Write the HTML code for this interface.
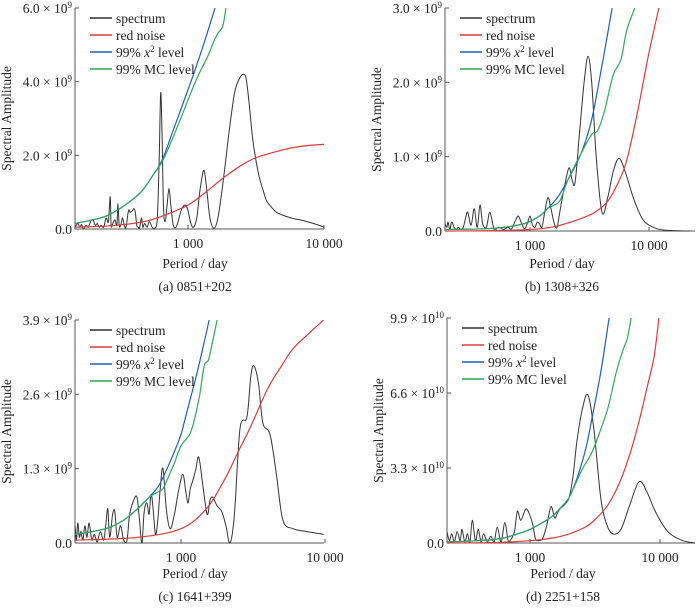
<!DOCTYPE html>
<html><head><meta charset="utf-8"><style>
body{margin:0;background:#fff;}
svg{display:block;font-family:"Liberation Serif",serif;}
</style></head><body>
<svg id="c" width="700" height="612" viewBox="0 0 700 612"></svg>
<script>
// Panel (a) data: period (day), amplitude (1e9)
const aSpecP=[148,155,160,165,170,178,185,192,200,208,215,222,230,240,250,260,268,272,280,290,300,305,312,320,330,340,350,365,375,390,400,410,420,430,440,455,465,480,500,520,545,570,595,615,630,645,660,680,700,725,750,780,815,845,900,960,1000,1050,1100,1160,1220,1290,1330,1380,1450,1550,1660,1800,2000,2200,2400,2550,2670,2800,3000,3300,3600,3800,4200,4500,5200,6000,6640,7500,8900,10000];
const aSpecV=[0.05,0.15,0.05,0.12,0.0,0.1,0.05,0.2,0.25,0.1,0.15,0.05,0.1,0.05,0.3,0.2,0.88,0.1,0.15,0.25,0.1,0.7,0.1,0.1,0.3,0.1,0.05,0.5,0.45,0.5,0.55,0.45,0.1,0.05,0.02,0.3,0.05,0.15,0.05,0.2,0.05,0.02,0.3,2.0,3.7,2.5,0.6,0.2,0.6,1.1,0.6,0.1,0.05,0.2,0.55,0.65,0.5,0.15,0.05,0.3,1.0,1.55,1.5,1.0,0.3,0.02,0.3,1.2,2.6,3.7,4.1,4.2,4.1,3.5,2.4,1.5,1.0,0.75,0.55,0.45,0.35,0.28,0.25,0.2,0.12,0.05];
const aRedP=[148,300,500,700,1000,1300,2000,3000,5000,7000,10000];
const aRedV=[0.05,0.1,0.22,0.4,0.65,0.95,1.5,1.9,2.15,2.25,2.3];
const aBlueP=[148,200,250,330,450,550,650,800,1050,1300,1580];
const aBlueV=[0.15,0.25,0.35,0.6,1.0,1.45,1.9,2.8,4.0,5.0,6.0];
const aGreenP=[148,200,250,330,450,550,650,800,1050,1200,1400,1550,1650,1800,1900];
const aGreenV=[0.15,0.25,0.35,0.6,1.0,1.45,1.85,2.6,3.7,4.2,4.7,5.1,5.3,5.5,6.0];
// Panel (b)
const bSpecP=[193,200,205,212,220,230,240,250,262,275,290,300,320,340,360,380,400,430,460,500,540,600,650,700,760,800,850,900,950,1000,1050,1100,1150,1200,1260,1330,1415,1500,1600,1690,1800,1950,2125,2250,2390,2600,2850,3070,3300,3600,4030,4500,5000,5600,6300,7200,8000,8900,10000,11700,14000,19300,22000];
const bSpecV=[0.1,0.05,0.12,0.02,0.12,0.05,0.02,0.05,0.02,0.05,0.2,0.25,0.08,0.3,0.05,0.35,0.1,0.05,0.25,0.02,0.05,0.02,0.05,0.03,0.15,0.2,0.1,0.03,0.1,0.2,0.08,0.05,0.12,0.1,0.05,0.25,0.45,0.3,0.1,0.05,0.3,0.6,0.85,0.7,0.65,1.3,2.0,2.35,2.0,1.0,0.25,0.45,0.8,0.98,0.8,0.5,0.3,0.15,0.08,0.03,0.01,0.0,0.0];
const bRedP=[193,500,1000,1500,2000,2700,3500,4500,5500,6500,8000,10000,12100];
const bRedV=[0.0,0.005,0.02,0.05,0.1,0.17,0.25,0.4,0.65,0.95,1.6,2.4,3.0];
const bBlueP=[193,400,600,900,1200,1400,1700,2100,2700,3300,4000,4900];
const bBlueV=[0.02,0.03,0.05,0.1,0.2,0.3,0.45,0.7,1.05,1.5,2.2,3.0];
const bGreenP=[193,400,600,900,1200,1400,1600,1800,2100,2700,3300,3700,4200,5000,5800,6500,7600];
const bGreenV=[0.02,0.03,0.05,0.1,0.2,0.3,0.35,0.42,0.7,1.05,1.3,1.35,1.6,2.1,2.3,2.7,3.0];
// Panel (c)
const cSpecP=[184,188,192,197,202,208,215,222,230,240,250,262,275,290,300,310,320,335,347,360,380,400,422,440,470,495,515,535,555,580,600,620,640,665,690,720,750,790,840,900,960,1030,1080,1120,1160,1210,1270,1330,1420,1520,1590,1660,1780,1920,2050,2190,2350,2570,2870,3050,3200,3450,3700,4150,4600,5100,6000,7500,9800];
const cSpecV=[0.3,0.05,0.35,0.1,0.2,0.05,0.3,0.1,0.35,0.05,0.15,0.02,0.2,0.05,0.3,0.6,0.1,0.5,0.55,0.1,0.3,0.05,0.05,0.5,0.75,0.8,0.4,0.0,0.55,0.7,0.5,0.85,0.6,0.15,0.4,1.0,1.3,0.6,0.25,0.5,0.9,1.2,0.9,0.7,0.95,1.1,1.3,1.5,1.0,0.5,0.75,0.8,0.65,0.55,0.3,0.0,0.5,2.0,2.2,2.9,3.1,2.8,2.1,1.9,1.2,0.4,0.25,0.2,0.15];
const cRedP=[184,500,1000,1500,2000,2500,3000,4000,5000,6000,8000,9800];
const cRedV=[0.05,0.1,0.25,0.6,1.1,1.6,2.0,2.7,3.1,3.4,3.7,3.9];
const cBlueP=[184,300,400,500,600,700,800,900,1000,1100,1300,1570];
const cBlueV=[0.15,0.25,0.4,0.6,0.8,1.0,1.3,1.6,1.9,2.3,3.0,3.9];
const cGreenP=[184,300,400,500,600,700,750,800,900,1000,1150,1250,1350,1450,1550,1650,1780];
const cGreenV=[0.15,0.25,0.4,0.6,0.8,0.9,0.95,1.1,1.4,1.7,1.9,2.2,2.6,3.1,3.2,3.5,3.9];
// Panel (d) amplitude in 1e10
const dSpecP=[230,240,250,262,275,290,300,315,330,345,360,380,400,420,440,470,500,530,560,600,640,680,720,760,800,850,930,1000,1050,1100,1150,1250,1350,1450,1550,1620,1700,1850,2000,2150,2300,2550,2800,3100,3500,3900,4350,5000,5800,6900,8000,9000,10500,12000,15000,18700];
const dSpecV=[0.5,0.1,0.4,0.05,0.5,0.1,0.6,0.05,0.4,0.05,1.0,0.1,0.6,0.05,0.4,0.05,0.3,0.05,0.7,0.05,0.9,0.1,0.2,0.5,1.4,1.0,1.5,1.2,0.8,0.2,0.1,0.2,0.8,1.6,1.1,1.3,1.5,1.7,2.0,3.0,4.5,6.0,6.5,5.0,2.0,0.8,0.4,0.6,1.6,2.7,2.2,1.5,0.8,0.4,0.1,0.0];
const dRedP=[230,600,1000,1500,2000,2500,3000,4000,5000,6000,7000,8000,9000,9800];
const dRedV=[0.0,0.03,0.1,0.22,0.4,0.62,0.9,1.7,2.8,4.1,5.5,6.9,8.2,9.9];
const dBlueP=[230,400,600,800,1000,1250,1500,1750,2000,2250,2500,2750,3000,3500,4060];
const dBlueV=[0.05,0.1,0.2,0.4,0.6,0.9,1.2,1.6,2.0,2.7,3.5,4.4,5.5,7.5,9.9];
const dGreenP=[230,400,600,800,1000,1250,1500,1750,2000,2500,3000,3500,4000,4600,5200,5600,6000];
const dGreenV=[0.05,0.1,0.2,0.4,0.6,0.9,1.2,1.6,2.0,3.2,4.0,5.0,6.0,7.5,8.5,9.0,9.9];

const aTicks=["0.0","2.0","4.0","6.0"], bTicks=["0.0","1.0","2.0","3.0"], cTicks=["0.0","1.3","2.6","3.9"], dTicks=["0.0","3.3","6.6","9.9"];

const NS="http://www.w3.org/2000/svg";
const svg=document.getElementById('c');
function mk(tag,attrs,parent){const e=document.createElementNS(NS,tag);for(const k in attrs)e.setAttribute(k,attrs[k]);(parent||svg).appendChild(e);return e;}
function smooth(pts){
  let d='M'+pts[0][0].toFixed(1)+','+pts[0][1].toFixed(1);
  for(let i=0;i<pts.length-1;i++){
    const p0=pts[Math.max(0,i-1)],p1=pts[i],p2=pts[i+1],p3=pts[Math.min(pts.length-1,i+2)];
    const c1x=p1[0]+(p2[0]-p0[0])/6,c1y=p1[1]+(p2[1]-p0[1])/6;
    const c2x=p2[0]-(p3[0]-p1[0])/6,c2y=p2[1]-(p3[1]-p1[1])/6;
    d+='C'+c1x.toFixed(1)+','+c1y.toFixed(1)+' '+c2x.toFixed(1)+','+c2y.toFixed(1)+' '+p2[0].toFixed(1)+','+p2[1].toFixed(1);
  }
  return d;
}

const panels=[
 {id:'a',x0:75,x1:324,ref:188,dec:136,top:8,bot:229,ymax:6,exp:'9',ticks:aTicks,cap:'(a) 0851+202',cx:195,cy:0,
  s:[[aSpecP,aSpecV,'#333'],[aRedP,aRedV,'#e0393a'],[aBlueP,aBlueV,'#1f5fbf'],[aGreenP,aGreenV,'#2eaa5a']],xt:[1000,10000]},
 {id:'b',x0:445,x1:695,ref:530,dec:119,top:8,bot:231,ymax:3,exp:'9',ticks:bTicks,cap:'(b) 1308+326',cx:562,cy:0,
  s:[[bSpecP,bSpecV,'#333'],[bRedP,bRedV,'#e0393a'],[bBlueP,bBlueV,'#1f5fbf'],[bGreenP,bGreenV,'#2eaa5a']],xt:[1000,10000]},
 {id:'c',x0:75,x1:324,ref:181,dec:144,top:320,bot:543,ymax:3.9,exp:'9',ticks:cTicks,cap:'(c) 1641+399',cx:195,cy:310,
  s:[[cSpecP,cSpecV,'#333'],[cRedP,cRedV,'#e0393a'],[cBlueP,cBlueV,'#1f5fbf'],[cGreenP,cGreenV,'#2eaa5a']],xt:[1000,10000]},
 {id:'d',x0:447,x1:695,ref:530,dec:130,top:318,bot:543,ymax:9.9,exp:'10',ticks:dTicks,cap:'(d) 2251+158',cx:563,cy:310,
  s:[[dSpecP,dSpecV,'#333'],[dRedP,dRedV,'#e0393a'],[dBlueP,dBlueV,'#1f5fbf'],[dGreenP,dGreenV,'#2eaa5a']],xt:[1000,10000]}
];
const names=['spectrum','red-noise','chi2-level','mc-level'];
const legTxt=['spectrum','red noise',null,'99% MC level'];

panels.forEach(p=>{
  const g=mk('g',{});
  
  
  const xs=v=>p.ref+(Math.log10(v)-3)*p.dec;
  const ys=v=>p.bot-(v/p.ymax)*(p.bot-p.top);
  const clip=mk('clipPath',{id:'cl'+p.id},g);
  mk('rect',{x:p.x0,y:p.top,width:p.x1-p.x0,height:p.bot-p.top+1},clip);
  const ya=mk('line',{x1:p.x0,y1:p.top,x2:p.x0,y2:p.bot,stroke:'#555','stroke-width':1},g);
  
  
  const xa=mk('line',{x1:p.x0,y1:p.bot,x2:p.x1,y2:p.bot,stroke:'#555','stroke-width':1},g);
  
  
  p.ticks.forEach((t,i)=>{
    const y=ys(parseFloat(t));
    mk('line',{x1:p.x0,y1:y,x2:p.x0+4,y2:y,stroke:'#555'},g);
    const tx=mk('text',{x:p.x0-3,y:y+5,'text-anchor':'end','font-size':13.5,fill:'#222'},g);
    
    
    if(i===0){tx.textContent=t;}
    else{tx.textContent=t+' × 10';const s=mk('tspan',{dy:-5,'font-size':9},tx);s.textContent=p.exp;}
  });
  p.xt.forEach(v=>{
    const x=xs(v);
    mk('line',{x1:x,y1:p.bot,x2:x,y2:p.bot-4,stroke:'#555'},g);
    const tx=mk('text',{x:x,y:p.bot+19,'text-anchor':'middle','font-size':13.5,fill:'#222'},g);
    
    
    tx.textContent=v===1000?'1 000':'10 000';
  });
  const xt=mk('text',{x:p.cx,y:p.cy+268,'text-anchor':'middle','font-size':13.5,fill:'#222'},g);
  
  
  xt.textContent='Period / day';
  const cp=mk('text',{x:p.cx,y:p.cy+291,'text-anchor':'middle','font-size':13.5,fill:'#222'},g);
  
  
  cp.textContent=p.cap;
  const yx=p.x0-64, yy=(p.top+p.bot)/2;
  const yt=mk('text',{x:yx,y:yy,'text-anchor':'middle','font-size':13.5,fill:'#222',transform:'rotate(-90 '+yx+' '+yy+')'},g);
  
  
  yt.textContent='Spectral Amplitude';
  p.s.forEach((s,k)=>{
    const pts=s[0].map((v,i)=>[xs(v),ys(s[1][i])]);
    const path=mk('path',{d:smooth(pts),fill:'none',stroke:s[2],'stroke-width':k===0?1:1.2,'clip-path':'url(#cl'+p.id+')'},g);
    
    
  });
  const lx=p.x0+15, ly=p.top+10;
  p.s.forEach((s,k)=>{
    const y=ly+k*17;
    const le=mk('g',{},g);
    
    
    mk('line',{x1:lx,y1:y,x2:lx+22,y2:y,stroke:s[2],'stroke-width':1.5},le);
    const t=mk('text',{x:lx+26,y:y+5,'font-size':13.5,fill:'#222'},le);
    if(k===2){t.textContent='99% ';const i=mk('tspan',{'font-style':'italic'},t);i.textContent='x';const sp=mk('tspan',{dy:-5,'font-size':9},t);sp.textContent='2';const r=mk('tspan',{dy:5},t);r.textContent=' level';}
    else t.textContent=legTxt[k];
  });
});
</script>
</body></html>
